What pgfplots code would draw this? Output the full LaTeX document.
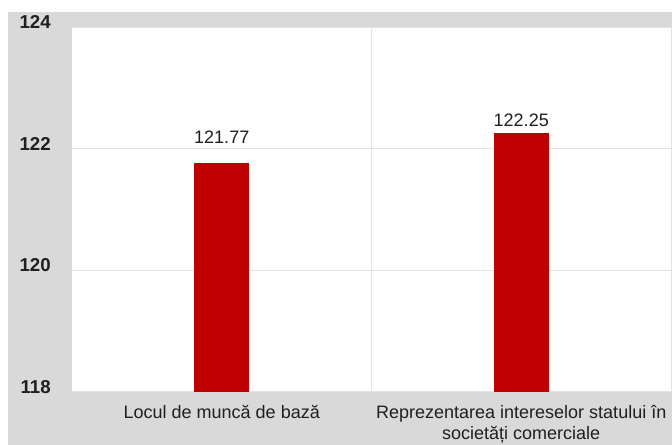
\documentclass[border=0pt]{standalone}
\usepackage{fontspec}
\setmainfont{Liberation Sans}
\usepackage{pgfplots}
\pgfplotsset{compat=1.18}
\definecolor{bg}{HTML}{D9D9D9}
\definecolor{barred}{HTML}{C00000}
\definecolor{gridc}{HTML}{E3E3E3}
\definecolor{txt}{HTML}{1F1F1F}
\begin{document}
\begin{tikzpicture}
\useasboundingbox (0,0) rectangle (504pt,333.75pt);
\fill[white] (0,0) rectangle (504pt,333.75pt);
\fill[bg] (6pt,0) rectangle (504pt,324.75pt);
\begin{axis}[
  at={(54pt,39.75pt)}, anchor=south west,
  scale only axis, width=449.25pt, height=273.75pt,
  xmin=-0.5, xmax=1.5, ymin=118, ymax=124,
  axis background/.style={fill=white},
  axis line style={draw=none},
  ytick={118,120,122,124},
  ymajorgrids, grid style={gridc, line width=0.75pt},
  xtick={0,1},
  xticklabels={Locul de muncă de bază, {Reprezentarea intereselor statului în\\societăți comerciale}},
  extra x ticks={0.5,1.5}, extra x tick labels={}, extra x tick style={grid=major},
  tick style={draw=none},
  /pgf/number format/assume math mode=true,
  yticklabel style={font=\fontsize{14}{16}\selectfont\bfseries, text=txt, anchor=east, inner sep=0pt, xshift=-15.75pt, yshift=3.75pt},
  xticklabel style={font=\fontsize{13.5}{16}\selectfont, text=txt, anchor=north, inner sep=0pt, yshift=-9.75pt, align=center},
]
\addplot[ybar, bar shift=0pt, bar width=41.25pt, fill=barred, draw=none, point meta=explicit symbolic, nodes near coords, every node near coord/.append style={font=\fontsize{13.5}{16}\selectfont, text=txt, inner sep=0pt, anchor=south, yshift=14.25pt}] coordinates {(0,121.77) [121.77]};
\addplot[ybar, bar shift=0pt, bar width=41.25pt, fill=barred, draw=none, point meta=explicit symbolic, nodes near coords, every node near coord/.append style={font=\fontsize{13.5}{16}\selectfont, text=txt, inner sep=0pt, anchor=south, yshift=5.25pt}] coordinates {(1,122.25) [122.25]};
\end{axis}
\end{tikzpicture}
\end{document}
